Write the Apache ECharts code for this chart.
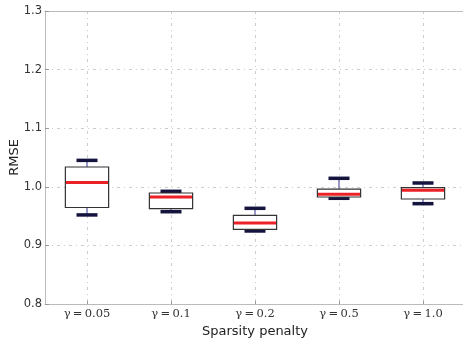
<!DOCTYPE html>
<html><head><meta charset="utf-8">
<script src="https://cdn.jsdelivr.net/npm/echarts@6/dist/echarts.min.js"></script>
<style>html,body{margin:0;padding:0;background:#fff}#c{width:463px;height:343px}</style>
</head><body><div id="c"></div>
<script>
var categories = ['γ\u2009=\u20090.05', 'γ\u2009=\u20090.1', 'γ\u2009=\u20090.2', 'γ\u2009=\u20090.5', 'γ\u2009=\u20091.0'];
var whiskerLow = [0.952, 0.9575, 0.9246, 0.9804, 0.9712];
var q1 = [0.9647, 0.9626, 0.9275, 0.9826, 0.9792];
var median = [1.0073, 0.9826, 0.9382, 0.9872, 0.9940];
var q3 = [1.0338, 0.9894, 0.9514, 0.9962, 0.9985];
var whiskerHigh = [1.0451, 0.9923, 0.9633, 1.0145, 1.0065];
var yTicks = [0.8, 0.9, 1.0, 1.1, 1.2, 1.3];

var data = categories.map(function (c, i) {
  return [i, whiskerLow[i], q1[i], median[i], q3[i], whiskerHigh[i]];
});

function renderItem(params, api) {
  var x = api.value(0);
  var band = api.size([1, 0])[0];
  var bw = band * 0.515, cw = band * 0.25;
  var pLow = api.coord([x, api.value(1)]);
  var pQ1 = api.coord([x, api.value(2)]);
  var pMed = api.coord([x, api.value(3)]);
  var pQ3 = api.coord([x, api.value(4)]);
  var pHigh = api.coord([x, api.value(5)]);
  var cx = pMed[0];
  return {
    type: 'group',
    children: [
      {type: 'line', shape: {x1: cx, y1: pHigh[1], x2: cx, y2: pQ3[1]}, style: {stroke: '#7878b8', lineWidth: 1.5}},
      {type: 'line', shape: {x1: cx, y1: pQ1[1], x2: cx, y2: pLow[1]}, style: {stroke: '#7878b8', lineWidth: 1.5}},
      {type: 'line', shape: {x1: cx - cw / 2, y1: pHigh[1], x2: cx + cw / 2, y2: pHigh[1]}, style: {stroke: '#14143f', lineWidth: 3.5}},
      {type: 'line', shape: {x1: cx - cw / 2, y1: pLow[1], x2: cx + cw / 2, y2: pLow[1]}, style: {stroke: '#14143f', lineWidth: 3.5}},
      {type: 'rect', shape: {x: cx - bw / 2, y: pQ3[1], width: bw, height: pQ1[1] - pQ3[1]}, style: {fill: '#fff', stroke: '#333', lineWidth: 1.2}},
      {type: 'line', shape: {x1: cx - bw / 2 + 0.6, y1: pMed[1], x2: cx + bw / 2 - 0.6, y2: pMed[1]}, style: {stroke: '#ec2127', lineWidth: 3}}
    ]
  };
}

var chart = echarts.init(document.getElementById('c'), null, {renderer: 'canvas'});
chart.setOption({
  animation: false,
  backgroundColor: '#fff',
  grid: {left: 45, right: -2, top: 11, bottom: 39, containLabel: false, outerBoundsMode: 'none'},
  xAxis: [{
    type: 'category', data: categories,
    axisLine: {show: true, lineStyle: {color: '#bbb'}},
    axisTick: {show: true, inside: true, length: 3, alignWithLabel: true, lineStyle: {color: '#999'}},
    splitLine: {show: true, alignWithLabel: true, lineStyle: {color: '#ccc', type: [3, 4, 1, 4], width: 1}},
    axisLabel: {color: '#333', fontFamily: 'DejaVu Serif', fontSize: 11.5, margin: 4},
    name: 'Sparsity penalty', nameLocation: 'middle', nameGap: 21, nameMoveOverlap: false,
    nameTextStyle: {color: '#222', fontFamily: 'DejaVu Sans', fontSize: 13}
  }, {
    type: 'category', data: categories, position: 'top',
    axisLine: {show: true, lineStyle: {color: '#bbb'}},
    axisTick: {show: false}, axisLabel: {show: false}, splitLine: {show: false}
  }],
  yAxis: {
    type: 'value', min: 0.8, max: 1.3, interval: 0.1,
    axisLine: {show: true, lineStyle: {color: '#bbb'}},
    axisTick: {show: true, inside: true, length: 4, lineStyle: {color: '#999'}},
    splitLine: {show: true, lineStyle: {color: '#ccc', type: [3, 4, 1, 4], width: 1}},
    axisLabel: {color: '#333', fontFamily: 'DejaVu Sans', fontSize: 11.5, margin: 3,
      formatter: function (v) { var t = yTicks.filter(function (y) { return Math.abs(y - v) < 1e-6; }); return t.length ? t[0].toFixed(1) : ''; }},
    name: 'RMSE', nameLocation: 'middle', nameGap: 24, nameMoveOverlap: false,
    nameTextStyle: {color: '#222', fontFamily: 'DejaVu Sans', fontSize: 13}
  },
  series: [{type: 'custom', renderItem: renderItem, data: data, encode: {x: 0, y: [1, 2, 3, 4, 5]}, clip: false}]
});
</script></body></html>
